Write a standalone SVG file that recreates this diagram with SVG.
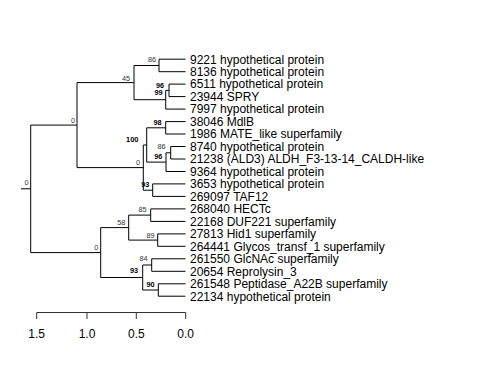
<svg xmlns="http://www.w3.org/2000/svg" width="480" height="384" viewBox="0 0 480 384">
<style>
.e{fill:none;stroke:#000;stroke-width:1}
.ax{fill:none;stroke:#333;stroke-width:1}
.lf{font-family:"Liberation Sans",Arial,sans-serif;font-size:12px;fill:#000}
.bs{font-family:"Liberation Sans",Arial,sans-serif;font-size:7.3px;fill:#333;text-anchor:end}
.bb{font-family:"Liberation Sans",Arial,sans-serif;font-size:7.3px;fill:#000;font-weight:bold;text-anchor:end}
.tk{font-family:"Liberation Sans",Arial,sans-serif;font-size:12px;fill:#000;text-anchor:middle}
</style>
<rect width="480" height="384" fill="#fff"/>
<g id="connectors">
<!-- root -->
<path class="e" d="M21,188.8H30.7M30.7,125.1V252.6"/>
<!-- A -->
<path class="e" d="M30.7,125.1H77M77,82.6V167.6"/>
<!-- B -->
<path class="e" d="M77,82.6H134M134,65.5V99.7"/>
<path class="e" d="M134,65.5H159M159,59.2V71.7M159,59.2H185.5M159,71.7H185.5"/>
<path class="e" d="M134,99.7H165.7M165.7,90.4V109.1M165.7,109.1H185.5"/>
<path class="e" d="M165.7,90.4H169M169,84.1V96.6M169,84.1H185.5M169,96.6H185.5"/>
<!-- F -->
<path class="e" d="M77,167.6H143.3M143.3,145V190.2"/>
<path class="e" d="M143.3,145H146.7M146.7,127.8V162.1"/>
<path class="e" d="M146.7,127.8H165.7M165.7,121.6V134M165.7,121.6H185.5M165.7,134H185.5"/>
<path class="e" d="M146.7,162.1H166M166,152.8V171.5M166,171.5H185.5"/>
<path class="e" d="M166,152.8H170.7M170.7,146.5V159M170.7,146.5H185.5M170.7,159H185.5"/>
<path class="e" d="M143.3,190.2H152.7M152.7,183.9V196.4M152.7,183.9H185.5M152.7,196.4H185.5"/>
<!-- L -->
<path class="e" d="M30.7,252.6H100.7M100.7,227.6V277.5"/>
<path class="e" d="M100.7,227.6H128.7M128.7,215.1V240.1"/>
<path class="e" d="M128.7,215.1H150.7M150.7,208.9V221.4M150.7,208.9H185.5M150.7,221.4H185.5"/>
<path class="e" d="M128.7,240.1H157.7M157.7,233.9V246.3M157.7,233.9H185.5M157.7,246.3H185.5"/>
<path class="e" d="M100.7,277.5H142.7M142.7,265V290"/>
<path class="e" d="M142.7,265H151.7M151.7,258.8V271.3M151.7,258.8H185.5M151.7,271.3H185.5"/>
<path class="e" d="M142.7,290H158.3M158.3,283.8V296.2M158.3,283.8H185.5M158.3,296.2H185.5"/>
</g>
<g id="bootstrap">
<text class="bs" x="28.5" y="185.3">0</text>
<text class="bs" x="75" y="122.7">0</text>
<text class="bs" x="130" y="81">45</text>
<text class="bs" x="156" y="62.3">86</text>
<text class="bb" x="164" y="88">96</text>
<text class="bb" x="162.7" y="95">99</text>
<text class="bb" x="161.7" y="125">98</text>
<text class="bb" x="138.3" y="142.3">100</text>
<text class="bs" x="165.7" y="149.3">86</text>
<text class="bb" x="162.3" y="159.3">96</text>
<text class="bs" x="140" y="165">0</text>
<text class="bb" x="149.3" y="186.7">93</text>
<text class="bs" x="146.7" y="211.7">85</text>
<text class="bs" x="125.3" y="225">58</text>
<text class="bs" x="154.7" y="237.7">89</text>
<text class="bs" x="98.3" y="250">0</text>
<text class="bs" x="147.7" y="261">84</text>
<text class="bb" x="138" y="273.3">93</text>
<text class="bb" x="154.7" y="286.7">90</text>
</g>
<g id="leaves">
<text class="lf" x="190" y="63.5">9221 hypothetical protein</text>
<text class="lf" x="190" y="76">8136 hypothetical protein</text>
<text class="lf" x="190" y="88.4">6511 hypothetical protein</text>
<text class="lf" x="190" y="100.9">23944 SPRY</text>
<text class="lf" x="190" y="113.4">7997 hypothetical protein</text>
<text class="lf" x="190" y="125.9">38046 MdlB</text>
<text class="lf" x="190" y="138.3">1986 MATE_like superfamily</text>
<text class="lf" x="190" y="150.8">8740 hypothetical protein</text>
<text class="lf" x="190" y="163.3">21238 (ALD3) ALDH_F3-13-14_CALDH-like</text>
<text class="lf" x="190" y="175.8">9364 hypothetical protein</text>
<text class="lf" x="190" y="188.2">3653 hypothetical protein</text>
<text class="lf" x="190" y="200.7">269097 TAF12</text>
<text class="lf" x="190" y="213.2">268040 HECTc</text>
<text class="lf" x="190" y="225.7">22168 DUF221 superfamily</text>
<text class="lf" x="190" y="238.2">27813 Hid1 superfamily</text>
<text class="lf" x="190" y="250.6">264441 Glycos_transf_1 superfamily</text>
<text class="lf" x="190" y="263.1">261550 GlcNAc superfamily</text>
<text class="lf" x="190" y="275.6">20654 Reprolysin_3</text>
<text class="lf" x="190" y="288.1">261548 Peptidase_A22B superfamily</text>
<text class="lf" x="190" y="300.5">22134 hypothetical protein</text>
</g>
<g id="axis">
<path class="ax" d="M36.7,312.5H185.7M36.7,312.5V319M87,312.5V319M136.3,312.5V319M185.7,312.5V319"/>
<text class="tk" x="36.7" y="338">1.5</text>
<text class="tk" x="87" y="338">1.0</text>
<text class="tk" x="136.3" y="338">0.5</text>
<text class="tk" x="185.7" y="338">0.0</text>
</g>
</svg>
